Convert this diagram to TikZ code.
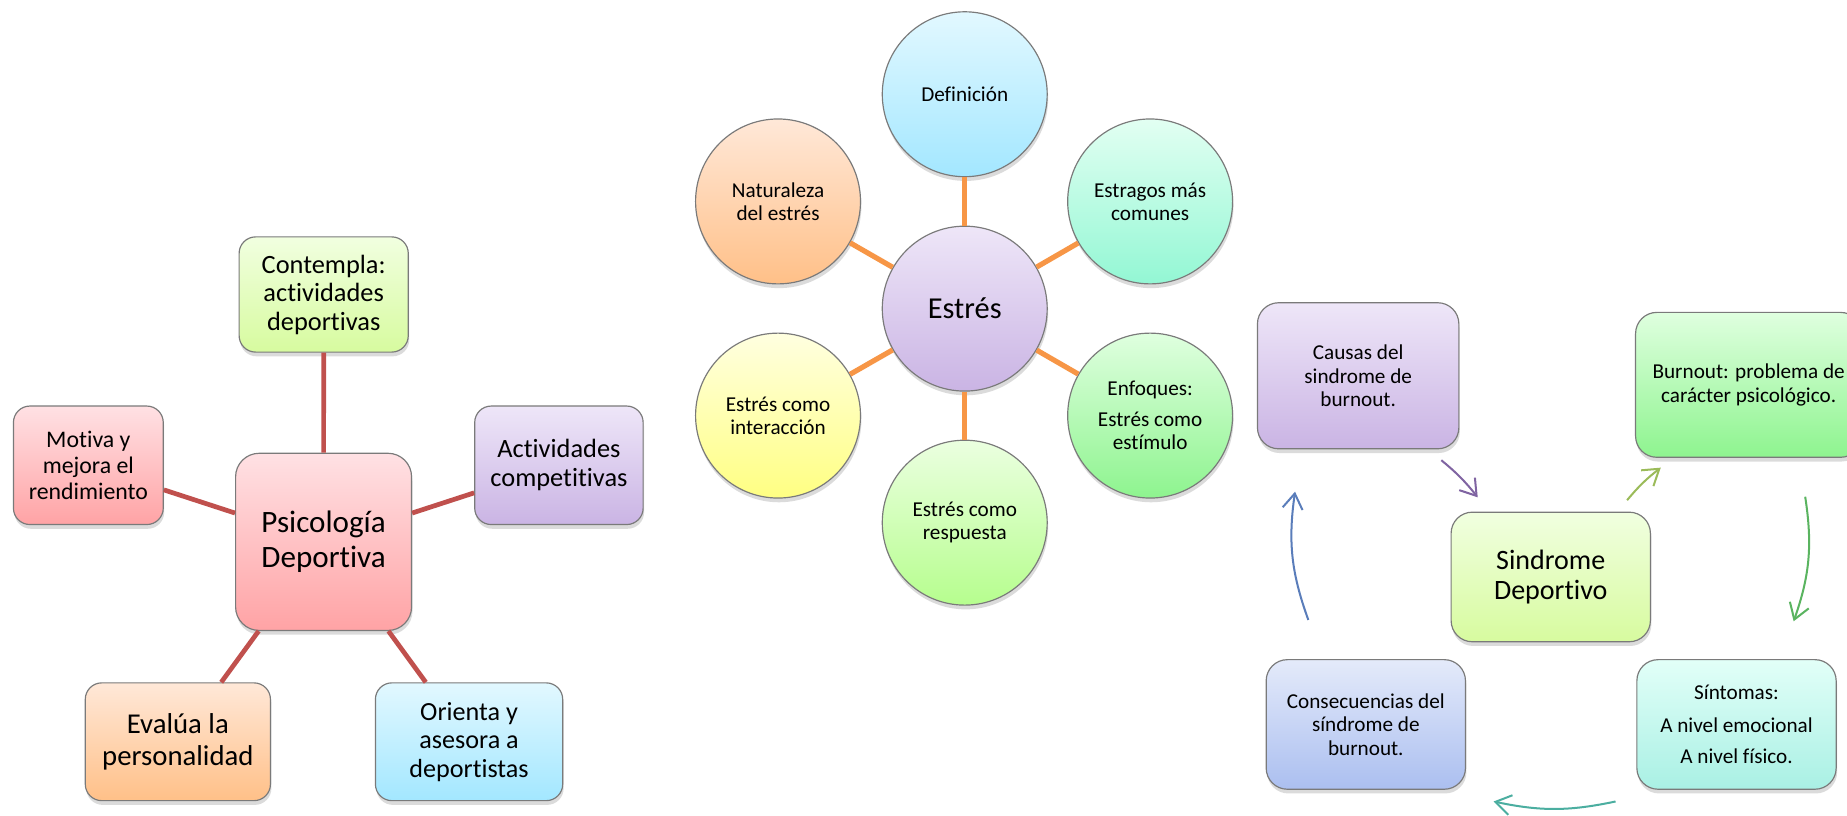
\documentclass[tikz,border=0pt]{standalone}
\usepackage{fontspec}
\setmainfont{Carlito}[Ligatures=NoCommon]
\usetikzlibrary{arrows.meta,shadows}

\definecolor{spokered}{HTML}{C0504D}
\definecolor{spokeorange}{HTML}{F79646}
\definecolor{edgegray}{HTML}{7A7A7A}
\definecolor{pinktop}{HTML}{FFE1E4}
\definecolor{pinkbot}{HTML}{FFA3A5}
\definecolor{limetop}{HTML}{F1FFE0}
\definecolor{limebot}{HTML}{D7FB9F}
\definecolor{lilactop}{HTML}{EEE6F8}
\definecolor{lilacbot}{HTML}{CAB4E4}
\definecolor{peachtop}{HTML}{FFE8D8}
\definecolor{peachbot}{HTML}{FFC088}
\definecolor{skytop}{HTML}{E2F8FF}
\definecolor{skybot}{HTML}{A3E7FF}
\definecolor{minttop}{HTML}{E2FFF2}
\definecolor{mintbot}{HTML}{93F7D4}
\definecolor{leaftop}{HTML}{DFFFDF}
\definecolor{leafbot}{HTML}{8EF48F}
\definecolor{yellowtop}{HTML}{FFFFE0}
\definecolor{yellowbot}{HTML}{FFFF82}
\definecolor{sagetop}{HTML}{EBFFE0}
\definecolor{sagebot}{HTML}{B6FE8E}
\definecolor{tealtop}{HTML}{E2FFF8}
\definecolor{tealbot}{HTML}{A9F0E4}
\definecolor{bluetop}{HTML}{E4EAFA}
\definecolor{bluebot}{HTML}{ABBFF0}
\definecolor{arrpurple}{HTML}{8064A2}
\definecolor{arrlime}{HTML}{9BBB59}
\definecolor{arrgreen}{HTML}{5AB460}
\definecolor{arrteal}{HTML}{4BAEA0}
\definecolor{arrblue}{HTML}{5A7DBA}

\tikzset{
  box/.style={draw=edgegray,line width=0.5pt,rounded corners=7pt,align=center,inner sep=2pt,
    drop shadow={shadow xshift=0.4pt,shadow yshift=-1.8pt,opacity=0.28}},
  bubble/.style={draw=edgegray,line width=0.5pt,circle,minimum size=70pt,inner sep=0pt,align=center,
    font=\fontsize{9}{9.8}\selectfont,
    drop shadow={shadow xshift=0.4pt,shadow yshift=-1.8pt,opacity=0.28}},
  cyclebox/.style={box,rounded corners=9pt,minimum width=84.6pt,minimum height=55pt,
    font=\fontsize{9}{10}\selectfont},
  redspoke/.style={draw=spokered,line width=2pt},
  orangespoke/.style={draw=spokeorange,line width=2.2pt},
  cyclearrow/.style={->,line width=0.85pt,bend left=#1},
}

\begin{document}
\begin{tikzpicture}[x=0.5pt,y=-0.5pt,>={Straight Barb[length=6.5pt,width=8.5pt]}]
\useasboundingbox (0,0) rectangle (1568,692);
\clip (0,0) rectangle (1568,692);
\fill[white] (0,0) rectangle (1568,692);

% Psicologia Deportiva
\node[box,rounded corners=10pt,top color=pinktop,bottom color=pinkbot,minimum width=74.7pt,minimum height=75.2pt,font=\fontsize{13.2}{15}\selectfont] (psi) at (274.7,460) {Psicología\\Deportiva};
\node[box,top color=limetop,bottom color=limebot,minimum width=71.8pt,minimum height=48.9pt,font=\fontsize{11.2}{12.1}\selectfont] (cont) at (274.8,250) {Contempla:\\actividades\\deportivas};
\node[box,top color=pinktop,bottom color=pinkbot,minimum width=63.6pt,minimum height=50.3pt,font=\fontsize{10.1}{11.2}\selectfont] (mot) at (75,395) {Motiva y\\mejora el\\rendimiento};
\node[box,top color=lilactop,bottom color=lilacbot,minimum width=71.5pt,minimum height=50.3pt,font=\fontsize{11.2}{12.35}\selectfont] (act) at (474.5,395) {Actividades\\competitivas};
\node[box,top color=peachtop,bottom color=peachbot,minimum width=78.6pt,minimum height=50pt,font=\fontsize{12.2}{13.35}\selectfont] (eva) at (151,629.7) {Evalúa la\\personalidad};
\node[box,top color=skytop,bottom color=skybot,minimum width=79.5pt,minimum height=50pt,font=\fontsize{11.1}{12.1}\selectfont] (ori) at (398.2,629.7) {Orienta y\\asesora a\\deportistas};
\draw[redspoke] (cont) -- (psi);
\draw[redspoke] (mot) -- (psi);
\draw[redspoke] (act) -- (psi);
\draw[redspoke] (eva) -- (psi);
\draw[redspoke] (ori) -- (psi);

% Estres
\node[bubble,top color=lilactop,bottom color=lilacbot,font=\fontsize{12.9}{15}\selectfont] (estres) at (819,262) {Estrés};
\node[bubble,top color=skytop,bottom color=skybot] (defin) at (819,80) {Definición};
\node[bubble,top color=peachtop,bottom color=peachbot] (natur) at (660.5,171) {Naturaleza\\del estrés};
\node[bubble,top color=minttop,bottom color=mintbot] (estrag) at (976.4,171) {Estragos más\\comunes};
\node[bubble,top color=yellowtop,bottom color=yellowbot] (inter) at (660.5,352.8) {Estrés como\\interacción};
\node[bubble,top color=leaftop,bottom color=leafbot] (enfoq) at (976.4,352.8) {Enfoques:\\[3.5pt]Estrés como\\estímulo};
\node[bubble,top color=sagetop,bottom color=sagebot] (resp) at (819,443.7) {Estrés como\\respuesta};
\foreach \n in {defin,natur,estrag,inter,enfoq,resp}
  \draw[orangespoke] (estres) -- (\n);

% Sindrome Deportivo
\node[cyclebox,top color=limetop,bottom color=limebot,font=\fontsize{11.9}{13}\selectfont] (sind) at (1316.5,489.8) {Sindrome\\Deportivo};
\node[cyclebox,top color=lilactop,bottom color=lilacbot,minimum width=85.5pt,minimum height=62pt] (causas) at (1153,319) {Causas del\\sindrome de\\burnout.};
\node[cyclebox,top color=leaftop,bottom color=leafbot,minimum width=96pt,minimum height=61.5pt] (burn) at (1484.5,326.7) {Burnout: problema de\\carácter psicológico.};
\node[cyclebox,top color=tealtop,bottom color=tealbot] (sint) at (1474.2,615) {Síntomas:\\[3.7pt]A nivel emocional\\[3.2pt]A nivel físico.};
\node[cyclebox,top color=bluetop,bottom color=bluebot] (cons) at (1159.5,615) {Consecuencias del\\síndrome de\\burnout.};
\coordinate (a1s) at (1223.6,390.7);
\coordinate (a1e) at (1254.5,422.2);
\coordinate (a2s) at (1381.3,424.6);
\coordinate (a2e) at (1409.9,397);
\coordinate (a3s) at (1532.5,421.7);
\coordinate (a3e) at (1522.7,527.4);
\coordinate (a4s) at (1371.5,680.4);
\coordinate (a4e) at (1268,680.4);
\coordinate (a5s) at (1110.7,526.3);
\coordinate (a5e) at (1099.4,417.4);
\draw[cyclearrow=6,arrpurple] (a1s) to (a1e);
\draw[cyclearrow=6,arrlime] (a2s) to (a2e);
\draw[cyclearrow=14,arrgreen] (a3s) to (a3e);
\draw[cyclearrow=12,arrteal] (a4s) to (a4e);
\draw[cyclearrow=14,arrblue] (a5s) to (a5e);
\end{tikzpicture}
\end{document}
